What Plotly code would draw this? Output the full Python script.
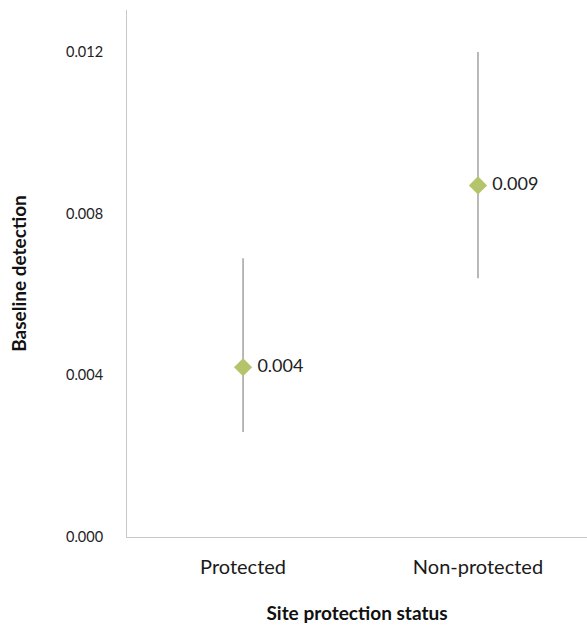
import plotly.graph_objects as go

categories = ["Protected", "Non-protected"]
estimates = [0.0042, 0.0087]
lower = [0.0026, 0.0064]
upper = [0.0069, 0.0120]
labels = ["0.004", "0.009"]
yticks = [0.000, 0.004, 0.008, 0.012]
ytick_text = ["0.000", "0.004", "0.008", "0.012"]

err_plus = [u - e for u, e in zip(upper, estimates)]
err_minus = [e - l for e, l in zip(estimates, lower)]

fig = go.Figure()
fig.add_trace(go.Scatter(
    x=categories, y=estimates,
    mode="markers+text",
    text=labels, texttemplate=" %{text}", textposition="middle right",
    textfont=dict(size=18, color="#222222", family="Lato"),
    marker=dict(symbol="diamond", size=14, color="#b3c46a"),
    error_y=dict(type="data", symmetric=False, array=err_plus, arrayminus=err_minus,
                 color="#8a8a8a", thickness=1.2, width=0),
    showlegend=False,
    cliponaxis=False,
))

fig.update_layout(
    width=587, height=625,
    margin=dict(l=127, r=0, t=10, b=88),
    paper_bgcolor="white", plot_bgcolor="white",
    font=dict(family="Lato", color="#222222"),
    xaxis=dict(
        type="category", range=[-0.494, 1.464],
        showgrid=False, zeroline=False, automargin=False,
        showline=True, linecolor="#c8c8c8", linewidth=1,
        ticks="", tickfont=dict(size=20, color="#1a1a1a"),
        ticklabelstandoff=12,
        title=dict(text="<b>Site protection status</b>", font=dict(size=19, color="#111111"), standoff=29),
    ),
    yaxis=dict(
        range=[0, 0.01304],
        tickvals=yticks, ticktext=ytick_text,
        showgrid=False, zeroline=False, automargin=False,
        showline=True, linecolor="#c8c8c8", linewidth=1,
        ticks="", tickfont=dict(size=14.5, color="#222222"),
        ticklabelstandoff=20,
        title=dict(text="<b>Baseline detection</b>", font=dict(size=19, color="#111111"), standoff=34),
    ),
)

fig.write_html("out.html", config={"displayModeBar": False},
               post_script="document.body.style.margin='0';document.body.style.padding='0';")
